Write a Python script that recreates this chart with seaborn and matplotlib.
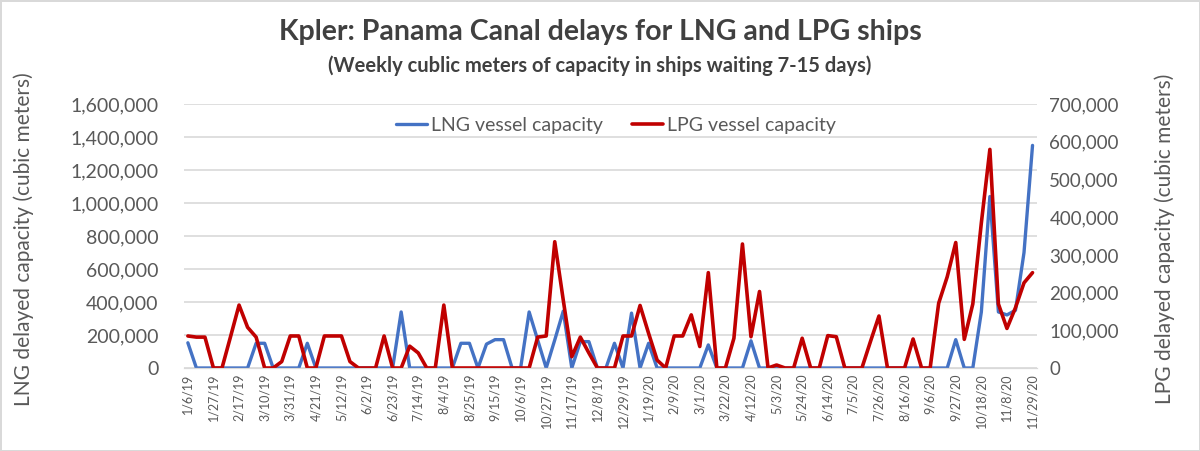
import matplotlib
matplotlib.use("Agg")
import matplotlib.pyplot as plt
import matplotlib.ticker as mticker
import seaborn as sns
import pandas as pd

# weekly data, 1/6/19 .. 11/29/20
weeks = pd.date_range("2019-01-06", periods=100, freq="W-SUN")

lng_capacity = [
    153000, 0, 0, 0, 0, 0, 0, 0, 150000, 150000,
    0, 0, 0, 0, 150000, 0, 0, 0, 0, 0,
    0, 0, 0, 0, 0, 340000, 0, 0, 0, 0,
    0, 0, 150000, 150000, 0, 145000, 172000, 172000, 0, 0,
    340000, 170000, 0, 170000, 345000, 0, 160000, 160000, 0, 0,
    150000, 0, 333000, 0, 150000, 0, 0, 0, 0, 0,
    0, 140000, 0, 0, 0, 0, 165000, 0, 0, 0,
    0, 0, 0, 0, 0, 0, 0, 0, 0, 0,
    0, 0, 0, 0, 0, 0, 0, 0, 0, 0,
    172000, 0, 0, 340000, 1040000, 340000, 322000, 350000, 700000, 1350000,
]

lpg_capacity = [
    85000, 82000, 82000, 0, 0, 83000, 167000, 108000, 82000, 0,
    0, 17000, 85000, 85000, 0, 0, 85000, 85000, 85000, 17000,
    0, 0, 0, 85000, 0, 0, 58000, 40000, 0, 0,
    167000, 0, 0, 0, 0, 0, 0, 0, 0, 0,
    0, 82000, 85000, 335000, 180000, 30000, 82000, 40000, 0, 0,
    0, 85000, 85000, 166000, 92000, 21000, 0, 85000, 85000, 141000,
    57000, 253000, 0, 0, 79000, 329000, 83000, 203000, 0, 8000,
    0, 0, 79000, 0, 0, 86000, 83000, 0, 0, 0,
    70000, 138000, 0, 0, 0, 77000, 0, 0, 172000, 242000,
    333000, 76000, 170000, 385000, 580000, 170000, 105000, 160000, 226000, 253000,
]

df = pd.DataFrame({
    "week": range(len(weeks)),
    "LNG vessel capacity": lng_capacity,
    "LPG vessel capacity": lpg_capacity,
})
tick_labels = [f"{d.month}/{d.day}/{d.strftime('%y')}" for d in weeks]

sns.set_style("white")
plt.rcParams["font.family"] = ["Lato", "DejaVu Sans"]

text_col = "#595959"
grid_col = "#D9D9D9"
blue = "#4472C4"
red = "#C00000"

fig = plt.figure(figsize=(12, 4.51), dpi=100)
fig.patch.set_edgecolor(grid_col)
fig.patch.set_linewidth(2)
ax1 = fig.add_axes([0.153, 0.184, 0.711, 0.585])
ax2 = ax1.twinx()

sns.lineplot(data=df, x="week", y="LNG vessel capacity", ax=ax1,
             color=blue, linewidth=2.4, label="LNG vessel capacity", legend=False)
sns.lineplot(data=df, x="week", y="LPG vessel capacity", ax=ax2,
             color=red, linewidth=2.6, label="LPG vessel capacity", legend=False)

n = len(weeks)
ax1.set_xlim(-0.5, n - 0.5)
ax1.set_ylim(0, 1600000)
ax2.set_ylim(0, 700000)
ax1.set_yticks(range(0, 1600001, 200000))
ax2.set_yticks(range(0, 700001, 100000))
fmt = mticker.FuncFormatter(lambda v, p: f"{int(v):,}")
ax1.yaxis.set_major_formatter(fmt)
ax2.yaxis.set_major_formatter(fmt)

ax1.set_xticks(range(0, n, 3))
ax1.set_xticklabels(tick_labels[::3], rotation=90)
ax1.set_xticks([i - 0.5 for i in range(n + 1)], minor=True)
ax1.tick_params(axis="x", which="major", length=0, labelsize=9, labelcolor=text_col, pad=4)
ax1.tick_params(axis="x", which="minor", length=5, color=grid_col, width=1)
ax1.tick_params(axis="y", length=0, labelsize=14, labelcolor=text_col, pad=18)
ax2.tick_params(axis="y", length=0, labelsize=13.5, labelcolor=text_col, pad=9)

ax1.grid(axis="y", color=grid_col, linewidth=1.2)
ax1.set_axisbelow(True)
for ax in (ax1, ax2):
    for s in ("top", "left", "right"):
        ax.spines[s].set_visible(False)
    ax.spines["bottom"].set_color(grid_col)
    ax.set_xlabel("")
    ax.set_ylabel("")

handles = ax1.get_lines()[:1] + ax2.get_lines()[:1]
ax1.legend(handles, ["LNG vessel capacity", "LPG vessel capacity"],
           loc="center", bbox_to_anchor=(0.507, 0.92), ncol=2, frameon=False,
           fontsize=14, labelcolor=text_col, handlelength=1.6, columnspacing=1.5,
           handletextpad=0.2)

fig.text(0.5, 0.928, "Kpler: Panama Canal delays for LNG and LPG ships",
         ha="center", va="center", fontsize=20.5, fontweight="bold", color="#404040")
fig.text(0.5, 0.855, "(Weekly cublic meters of capacity in ships waiting 7-15 days)",
         ha="center", va="center", fontsize=14.5, fontweight="bold", color="#404040")
fig.text(0.02, 0.47, "LNG delayed capacity (cubic meters)", rotation=90,
         ha="center", va="center", fontsize=15, color=text_col)
fig.text(0.971, 0.47, "LPG delayed capacity (cubic meters)", rotation=90,
         ha="center", va="center", fontsize=15, color=text_col)

fig.savefig("out.png", dpi=100, edgecolor=fig.get_edgecolor())
